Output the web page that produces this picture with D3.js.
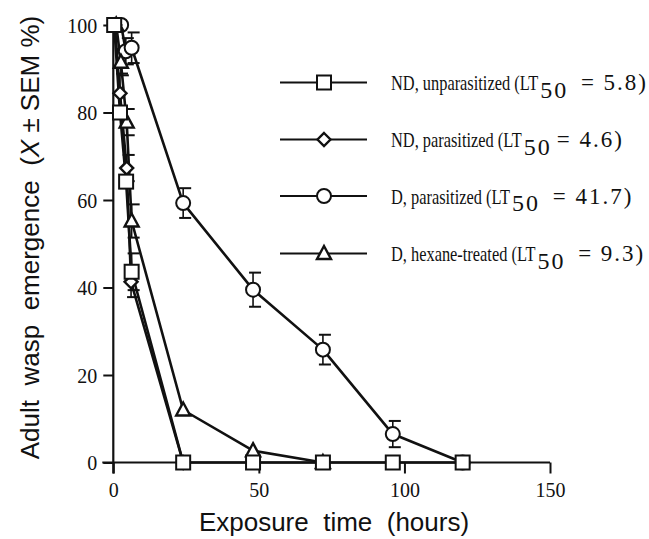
<!DOCTYPE html>
<html>
<head>
<meta charset="utf-8">
<script src="https://cdn.jsdelivr.net/npm/d3@7"></script>
<style>
  body { margin: 0; background: #fff; }
  svg { display: block; }
</style>
</head>
<body>
<svg id="chart" width="649" height="539"></svg>
<script>
// ---- Data ----
const xTicks = [0, 50, 100, 150];
const yTicks = [0, 20, 40, 60, 80, 100];

const seriesNames = [
  "ND, unparasitized",
  "ND, parasitized",
  "D, parasitized",
  "D, hexane-treated"
];
const lt50Labels = [" = 5.8)", "= 4.6)", " = 41.7)", " = 9.3)"];
const markerShapes = ["square", "diamond", "circle", "triangle"];

// times (hours)
const timesUnpar = [0.3, 2.3, 4.4, 6.3, 24, 48, 72, 96, 120];
const valuesUnpar = [100, 80, 64.2, 43.6, 0, 0, 0, 0, 0];
const semUnpar = [0, 0, 0, 4.2, 0, 0, 0, 0, 0];

const timesPar = [0.5, 2.3, 4.6, 6.1, 24];
const valuesPar = [100, 84.4, 67.3, 41.3, 0];
const semPar = [0, 4.5, 3, 3.5, 0];

const timesD = [2.7, 4.3, 6.3, 24, 48, 72, 96, 120];
const valuesD = [100, 94, 94.8, 59.3, 39.5, 25.8, 6.5, 0];
const semD = [0, 3, 3.5, 3.4, 3.9, 3.4, 3.0, 0];

const timesHex = [1, 2.6, 4.6, 6.3, 24, 48, 72];
const valuesHex = [100, 91.5, 77.8, 55.2, 12, 2.7, 0];
const semHex = [0, 3, 3, 3.8, 0, 0, 0];

const allSeries = [
  {t: timesUnpar, v: valuesUnpar, e: semUnpar},
  {t: timesPar, v: valuesPar, e: semPar},
  {t: timesD, v: valuesD, e: semD},
  {t: timesHex, v: valuesHex, e: semHex}
];

// ---- Layout ----
const svg = d3.select("#chart");
const x = d3.scaleLinear().domain([0, 150]).range([113.3, 550]);
const y = d3.scaleLinear().domain([0, 100]).range([462.5, 25]);

const serif = "'Liberation Serif', 'Times New Roman', serif";
const sans = "'Liberation Sans', Arial, Helvetica, sans-serif";

// axes lines
svg.append("line").attr("x1", x(0) - 11).attr("x2", x(150))
  .attr("y1", y(0)).attr("y2", y(0))
  .attr("stroke", "#111").attr("stroke-width", 2);
svg.append("line").attr("x1", x(0)).attr("x2", x(0))
  .attr("y1", y(100)).attr("y2", y(0) + 11)
  .attr("stroke", "#111").attr("stroke-width", 2.2);

// x axis ticks via d3 axis
const xAxis = d3.axisBottom(x).tickValues(xTicks).tickSize(11).tickSizeOuter(0).tickPadding(4);
const gx = svg.append("g").attr("transform", `translate(0,${y(0)})`).call(xAxis);
gx.select(".domain").remove();
gx.selectAll(".tick line").attr("stroke", "#111").attr("stroke-width", 2);
gx.selectAll(".tick text").attr("font-family", serif).attr("font-size", 20)
  .attr("fill", "#111").attr("dy", "0.95em");

const yAxis = d3.axisLeft(y).tickValues(yTicks).tickSize(10).tickSizeOuter(0).tickPadding(6);
const gy = svg.append("g").attr("transform", `translate(${x(0)},0)`).call(yAxis);
gy.select(".domain").remove();
gy.selectAll(".tick line").attr("stroke", "#111").attr("stroke-width", 2);
gy.selectAll(".tick text").attr("font-family", serif).attr("font-size", 20)
  .attr("fill", "#111").attr("dy", "0.35em");

// axis titles
svg.append("text").attr("x", 334).attr("y", 531)
  .attr("text-anchor", "middle").attr("font-family", sans).attr("font-size", 26)
  .attr("fill", "#111").attr("xml:space", "preserve")
  .text("Exposure  time  (hours)");

const yt = svg.append("text")
  .attr("transform", `translate(39,237.5) rotate(-90)`)
  .attr("text-anchor", "middle").attr("font-family", sans).attr("font-size", 26)
  .attr("fill", "#111").attr("xml:space", "preserve");
yt.append("tspan").text("Adult  wasp  emergence  (");
yt.append("tspan").attr("font-style", "italic").text("X");
yt.append("tspan").text(" ± SEM %)");

// symbol generator
function drawMarker(g, shape, cx, cy) {
  const sw = 2;
  if (shape === "square") {
    g.append("rect").attr("x", cx - 7).attr("y", cy - 7).attr("width", 14).attr("height", 14)
      .attr("fill", "#fff").attr("stroke", "#111").attr("stroke-width", sw);
  } else if (shape === "circle") {
    g.append("circle").attr("cx", cx).attr("cy", cy).attr("r", 7)
      .attr("fill", "#fff").attr("stroke", "#111").attr("stroke-width", sw);
  } else if (shape === "diamond") {
    g.append("path").attr("d", `M${cx},${cy - 6.5}L${cx + 6.5},${cy}L${cx},${cy + 6.5}L${cx - 6.5},${cy}Z`)
      .attr("fill", "#fff").attr("stroke", "#111").attr("stroke-width", 2.4);
  } else if (shape === "triangle") {
    g.append("path").attr("d", `M${cx},${cy - 7.5}L${cx + 7},${cy + 5.5}L${cx - 7},${cy + 5.5}Z`)
      .attr("fill", "#fff").attr("stroke", "#111").attr("stroke-width", 2.4).attr("stroke-linejoin", "miter");
  }
}

const line = d3.line().x(d => x(d[0])).y(d => y(d[1]));

// error bars
const eg = svg.append("g");
allSeries.forEach(s => {
  s.t.forEach((t, i) => {
    const e = s.e[i];
    if (!e) return;
    const cx = x(t);
    [s.v[i] + e, s.v[i] - e].forEach(val => {
      eg.append("line").attr("x1", cx).attr("x2", cx).attr("y1", y(s.v[i])).attr("y2", y(val))
        .attr("stroke", "#111").attr("stroke-width", 1.6);
      eg.append("line").attr("x1", cx - 4).attr("x2", cx + 8).attr("y1", y(val)).attr("y2", y(val))
        .attr("stroke", "#111").attr("stroke-width", 2);
    });
  });
});

// lines (draw in reverse so squares end up on top)
const order = [2, 3, 1, 0];
order.forEach(k => {
  const s = allSeries[k];
  svg.append("path").datum(s.t.map((t, i) => [t, s.v[i]]))
    .attr("d", line).attr("fill", "none").attr("stroke", "#111").attr("stroke-width", 2.6)
    .attr("stroke-linejoin", "round");
});
order.forEach(k => {
  const s = allSeries[k];
  const g = svg.append("g");
  s.t.forEach((t, i) => drawMarker(g, markerShapes[k], x(t), y(s.v[i])));
});

// legend
const legY = [82.5, 139.5, 196, 253.5];
const mainScale = 0.745;
seriesNames.forEach((name, k) => {
  const ly = legY[k];
  svg.append("line").attr("x1", 280).attr("x2", 367).attr("y1", ly).attr("y2", ly)
    .attr("stroke", "#111").attr("stroke-width", 2);
  drawMarker(svg.append("g"), markerShapes[k], 324, ly);
  const base = ly + 7.5;
  const t1 = svg.append("text")
    .attr("transform", `translate(391,${base}) scale(${mainScale},1)`)
    .attr("font-family", serif).attr("font-size", 22).attr("fill", "#111")
    .attr("xml:space", "preserve")
    .text(name + " (LT");
  const w1 = t1.node().getComputedTextLength() * mainScale;
  const sx = 391 + w1 + 2;
  const t2 = svg.append("text").attr("x", sx).attr("y", base + 7.5)
    .attr("font-family", serif).attr("font-size", 24).attr("fill", "#111")
    .attr("letter-spacing", 2).text("50");
  const w2 = t2.node().getComputedTextLength();
  svg.append("text").attr("x", sx + w2 + 5).attr("y", base)
    .attr("font-family", serif).attr("font-size", 23).attr("fill", "#111")
    .attr("letter-spacing", 2).attr("xml:space", "preserve")
    .text(lt50Labels[k]);
});
</script>
</body>
</html>
